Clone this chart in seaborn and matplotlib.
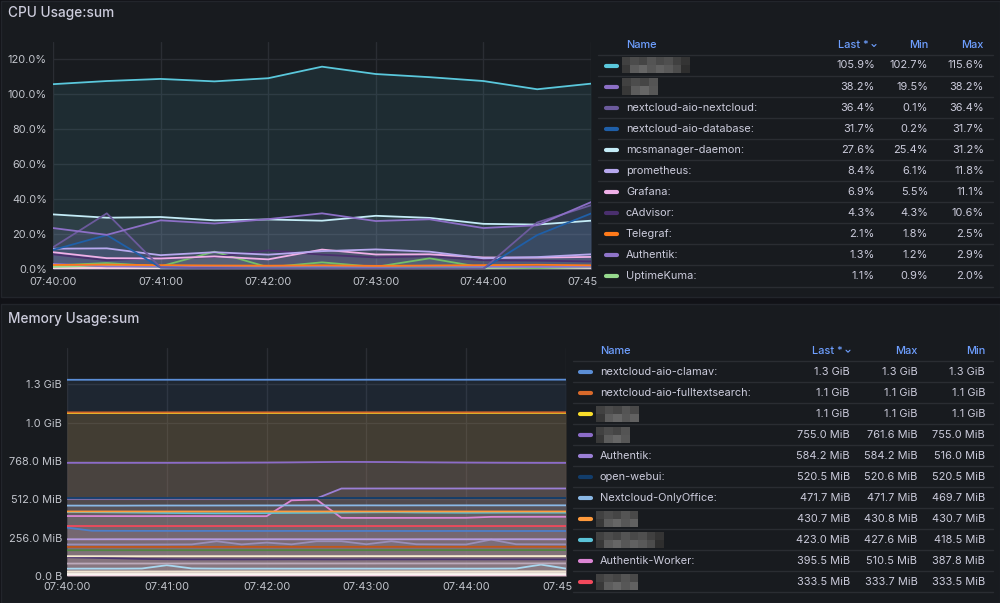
import numpy as np
import pandas as pd
import matplotlib.pyplot as plt
import seaborn as sns
from matplotlib.patches import Rectangle

W, H = 1000, 603
PANEL = "#181b1f"
GAP = "#111217"
BORDER = "#22252b"
TEXT = "#ccccdc"
TICK = "#c2c5cc"
HEAD = "#6e9fff"
GRID = "#2a2d33"
ROWLINE = "#2a2d32"

# ---------------- CPU Usage:sum  (percent, sample every 30 s from 07:40:00)
cpu_time = [0, 30, 60, 90, 120, 150, 180, 210, 240, 270, 300]
cpu_blur_a = [105.6, 107.4, 108.6, 107.2, 109.0, 115.6, 111.4, 109.6, 107.4, 102.7, 105.9]
cpu_blur_b = [23.4, 19.5, 27.8, 26.0, 28.5, 31.8, 27.4, 28.4, 23.4, 25.0, 38.2]
cpu_nextcloud = [12.4, 31.8, 0.9, 0.4, 0.3, 0.2, 0.1, 0.2, 0.1, 26.6, 36.4]
cpu_database = [10.9, 19.4, 0.8, 0.5, 0.3, 0.3, 0.2, 0.3, 0.2, 19.4, 31.7]
cpu_mcs = [31.2, 29.3, 29.7, 27.8, 28.3, 27.6, 30.4, 29.2, 25.8, 25.4, 27.6]
cpu_prometheus = [11.6, 11.8, 7.9, 9.6, 8.2, 10.2, 11.2, 9.9, 6.1, 6.8, 8.4]
cpu_grafana = [9.6, 6.2, 6.0, 7.2, 5.5, 11.1, 8.3, 8.4, 6.6, 6.5, 6.9]
cpu_cadvisor = [8.4, 5.0, 6.4, 6.8, 10.6, 8.2, 6.6, 7.3, 5.0, 4.8, 4.3]
cpu_telegraf = [2.3, 2.5, 2.2, 2.0, 1.9, 2.1, 1.8, 2.0, 2.2, 2.4, 2.1]
cpu_authentik = [2.9, 1.5, 1.3, 1.2, 1.4, 1.3, 1.2, 1.5, 1.3, 1.2, 1.3]
cpu_uptimekuma = [1.2, 2.0, 1.0, 0.9, 1.1, 1.0, 1.3, 1.0, 0.9, 1.2, 1.1]
# series further down the (scrolled) legend
cpu_extra_green = [2.0, 3.4, 1.5, 9.9, 1.0, 3.8, 1.2, 6.1, 0.8, 0.5, 1.0]
cpu_extra_pink = [0.7, 0.6, 0.8, 0.7, 0.6, 0.7, 0.8, 0.6, 0.7, 0.7, 0.6]
cpu_extra_white = [0.3, 0.2, 0.3, 0.3, 0.2, 0.3, 0.3, 0.2, 0.3, 0.3, 0.2]

cpu_colors = ["#5ac8dc", "#8c6fc6", "#6b5a9c", "#1f5fa8", "#c4ecf7", "#b7a8ee",
              "#f0b0e8", "#4a2f6e", "#ff7a1a", "#8f74c9", "#96d98d"]
cpu_names = ["", "", "nextcloud-aio-nextcloud:", "nextcloud-aio-database:",
             "mcsmanager-daemon:", "prometheus:", "Grafana:", "cAdvisor:",
             "Telegraf:", "Authentik:", "UptimeKuma:"]
cpu_last = ["105.9%", "38.2%", "36.4%", "31.7%", "27.6%", "8.4%", "6.9%",
            "4.3%", "2.1%", "1.3%", "1.1%"]
cpu_min = ["102.7%", "19.5%", "0.1%", "0.2%", "25.4%", "6.1%", "5.5%",
           "4.3%", "1.8%", "1.2%", "0.9%"]
cpu_max = ["115.6%", "38.2%", "36.4%", "31.7%", "31.2%", "11.8%", "11.1%",
           "10.6%", "2.5%", "2.9%", "2.0%"]
cpu_yticks = [0, 20, 40, 60, 80, 100, 120]

# ---------------- Memory Usage:sum  (MiB, sample every 15 s from 07:40:00)
mem_time = [0, 15, 30, 45, 60, 75, 90, 105, 120, 135, 150,
            165, 180, 195, 210, 225, 240, 255, 270, 285, 300]
mem_clamav = [1309.8, 1309.9, 1310.0, 1310.0, 1310.1, 1310.1, 1310.0, 1310.2, 1310.2, 1310.3, 1310.3,
              1310.2, 1310.4, 1310.4, 1310.5, 1310.5, 1310.4, 1310.6, 1310.6, 1310.7, 1310.7]
mem_fulltext = [1092.1, 1092.1, 1092.2, 1092.2, 1092.2, 1092.3, 1092.3, 1092.3, 1092.4, 1092.4, 1092.4,
                1092.5, 1092.5, 1092.5, 1092.6, 1092.6, 1092.6, 1092.7, 1092.7, 1092.7, 1092.8]
mem_blur_yellow = [1088.0, 1088.0, 1088.1, 1088.1, 1088.1, 1088.2, 1088.2, 1088.2, 1088.3, 1088.3, 1088.3,
                   1088.4, 1088.4, 1088.4, 1088.5, 1088.5, 1088.5, 1088.6, 1088.6, 1088.6, 1088.7]
mem_blur_purple = [755.4, 755.4, 755.2, 755.3, 755.3, 755.6, 755.8, 756.4, 757.0, 758.2, 760.0,
                   761.6, 761.2, 760.4, 759.0, 757.8, 756.8, 756.0, 755.4, 755.0, 755.0]
mem_authentik = [516.0, 516.2, 516.4, 516.3, 516.5, 516.6, 516.8, 517.0, 517.2, 517.4, 517.6,
                 584.0, 584.1, 584.2, 584.2, 584.1, 584.2, 584.2, 584.2, 584.2, 584.2]
mem_webui = [520.5, 520.5, 520.6, 520.5, 520.5, 520.6, 520.5, 520.5, 520.6, 520.5, 520.5,
             520.6, 520.5, 520.5, 520.6, 520.5, 520.5, 520.6, 520.5, 520.5, 520.5]
mem_onlyoffice = [470.0, 469.8, 469.7, 470.2, 470.5, 470.4, 470.6, 470.8, 471.0, 471.2, 471.0,
                  471.2, 471.4, 471.2, 471.4, 471.5, 471.6, 471.5, 471.6, 471.7, 471.7]
mem_blur_orange = [430.7, 430.7, 430.8, 430.7, 430.7, 430.8, 430.7, 430.7, 430.8, 430.7, 430.7,
                   430.8, 430.7, 430.7, 430.8, 430.7, 430.7, 430.8, 430.7, 430.7, 430.7]
mem_blur_cyan = [427.6, 426.0, 424.5, 423.0, 421.0, 419.5, 418.5, 419.0, 420.2, 421.5, 422.0,
                 423.5, 424.8, 425.5, 424.0, 423.2, 422.5, 423.0, 423.4, 423.2, 423.0]
mem_worker = [400.2, 400.0, 399.8, 399.6, 399.8, 400.0, 399.7, 399.5, 399.3, 505.0, 510.5,
              388.2, 387.8, 388.0, 388.1, 388.3, 388.5, 394.8, 395.3, 395.4, 395.5]
mem_blur_red = [333.6, 333.7, 333.6, 333.5, 333.6, 333.5, 333.6, 333.7, 333.6, 333.5, 333.6,
                333.5, 333.6, 333.5, 333.6, 333.5, 333.6, 333.5, 333.6, 333.5, 333.5]
# series further down the (scrolled) legend
mem_extra_blue = [323.0, 302.0, 301.5, 301.2, 301.0, 300.8, 301.0, 300.9, 300.7, 300.8, 300.6,
                  300.5, 300.7, 300.6, 300.4, 300.5, 300.6, 300.4, 300.3, 300.5, 300.4]
mem_extra_lavender = [245.2, 245.0, 245.3, 245.1, 245.2, 245.4, 245.2, 245.0, 245.3, 245.2, 245.1,
                      245.3, 245.2, 245.0, 245.2, 245.3, 245.1, 245.2, 245.4, 245.2, 245.1]
mem_extra_wavy = [210.5, 210.2, 209.8, 210.0, 210.4, 211.0, 232.0, 211.0, 223.0, 211.5, 232.0,
                  232.0, 212.0, 232.0, 212.0, 211.0, 210.5, 243.0, 212.0, 211.5, 211.0]
mem_extra_brown = [194.0, 194.2, 194.1, 194.3, 194.2, 194.4, 194.3, 194.5, 194.4, 194.6, 194.5,
                   194.7, 194.6, 194.8, 194.7, 194.9, 194.8, 195.0, 194.9, 195.1, 195.0]
mem_extra_green = [172.0, 172.1, 172.0, 172.2, 172.1, 172.3, 172.2, 172.4, 172.3, 172.5, 172.4,
                   172.6, 172.5, 172.7, 172.6, 172.8, 172.7, 172.9, 172.8, 173.0, 172.9]
mem_extra_cream = [132.0, 132.1, 132.2, 132.1, 132.3, 132.2, 132.4, 132.3, 132.5, 132.4, 132.6,
                   132.5, 132.7, 132.6, 132.8, 132.7, 132.9, 132.8, 133.0, 132.9, 133.1]
mem_extra_darkpurple = [125.0, 122.0, 118.0, 114.0, 112.0, 111.0, 111.2, 110.8, 111.0, 111.4, 111.0,
                        110.6, 111.2, 111.0, 110.8, 111.3, 111.0, 110.9, 111.2, 111.0, 110.8]
mem_extra_grey = [83.0, 83.2, 83.1, 83.3, 83.2, 83.4, 83.3, 83.5, 83.4, 83.6, 83.5,
                  83.7, 83.6, 83.8, 83.7, 83.9, 83.8, 84.0, 83.9, 84.1, 84.0]
mem_extra_lightblue = [49.0, 49.2, 49.1, 50.0, 72.0, 50.5, 49.3, 49.1, 49.2, 49.0, 49.1,
                       49.3, 49.2, 49.1, 49.0, 49.2, 49.1, 49.3, 50.0, 76.0, 49.5]
mem_extra_cream2 = [30.0, 30.1, 30.0, 30.2, 30.1, 30.3, 30.2, 30.4, 30.3, 30.5, 30.4,
                    30.6, 30.5, 30.7, 30.6, 30.8, 30.7, 30.9, 30.8, 31.0, 30.9]
mem_extra_white = [18.0, 18.1, 18.0, 18.2, 18.1, 18.3, 18.2, 18.4, 18.3, 18.5, 18.4,
                   18.6, 18.5, 18.7, 18.6, 18.8, 18.7, 18.9, 18.8, 19.0, 18.9]
mem_extra_white2 = [9.0, 9.1, 9.0, 9.2, 9.1, 9.3, 9.2, 9.4, 9.3, 9.5, 9.4,
                    9.6, 9.5, 9.7, 9.6, 9.8, 9.7, 9.9, 9.8, 10.0, 9.9]
mem_extra_pink = [2.0, 2.1, 2.0, 2.2, 2.1, 2.3, 2.2, 2.4, 2.3, 2.5, 2.4,
                  2.6, 2.5, 2.7, 2.6, 2.8, 2.7, 2.9, 2.8, 3.0, 2.9]

mem_colors = ["#5b8ed6", "#d9692a", "#fade2a", "#8c6cc8", "#9b7fd6", "#123d6b",
              "#8ab8e6", "#ff9a3c", "#5bc4d9", "#dc86d4", "#f2495c"]
mem_names = ["nextcloud-aio-clamav:", "nextcloud-aio-fulltextsearch:", "", "",
             "Authentik:", "open-webui:", "Nextcloud-OnlyOffice:", "", "",
             "Authentik-Worker:", ""]
mem_last = ["1.3 GiB", "1.1 GiB", "1.1 GiB", "755.0 MiB", "584.2 MiB", "520.5 MiB",
            "471.7 MiB", "430.7 MiB", "423.0 MiB", "395.5 MiB", "333.5 MiB"]
mem_max = ["1.3 GiB", "1.1 GiB", "1.1 GiB", "761.6 MiB", "584.2 MiB", "520.6 MiB",
           "471.7 MiB", "430.8 MiB", "427.6 MiB", "510.5 MiB", "333.7 MiB"]
mem_min = ["1.3 GiB", "1.1 GiB", "1.1 GiB", "755.0 MiB", "516.0 MiB", "520.5 MiB",
           "469.7 MiB", "430.7 MiB", "418.5 MiB", "387.8 MiB", "333.5 MiB"]
mem_yticks = [0, 256, 512, 768, 1024, 1280]
mem_ytick_labels = ["0.0 B", "256.0 MiB", "512.0 MiB", "768.0 MiB", "1.0 GiB", "1.3 GiB"]

time_ticks = [0, 60, 120, 180, 240, 300]
time_labels = ["07:40:00", "07:41:00", "07:42:00", "07:43:00", "07:44:00", "07:45:00"]

# pixel widths of the blurred (hidden) names
cpu_blur_w = {0: 68, 1: 36}
mem_blur_w = {2: 43, 3: 34, 7: 42, 8: 68, 10: 42}
blur_tiles = np.array([[0.26, 0.30, 0.27, 0.33, 0.29, 0.31, 0.25, 0.21, 0.27],
                       [0.22, 0.36, 0.40, 0.34, 0.38, 0.35, 0.30, 0.18, 0.33]])

sns.set_style("dark")
plt.rcParams["font.family"] = ["Inter", "DejaVu Sans"]

fig = plt.figure(figsize=(W / 100, H / 100), dpi=100, facecolor=GAP)


def px_axes(x0, y0, x1, y1, z):
    ax = fig.add_axes([x0 / W, 1 - y1 / H, (x1 - x0) / W, (y1 - y0) / H])
    ax.set_zorder(z)
    return ax


# background: two panels
bg = px_axes(0, 0, W, H, 0)
bg.set_xlim(0, W)
bg.set_ylim(H, 0)
bg.set_axis_off()
bg.add_patch(Rectangle((0.5, 0.5), 999, 296, facecolor=PANEL, edgecolor=BORDER, lw=1))
bg.add_patch(Rectangle((0.5, 303.5), 999, 299, facecolor=PANEL, edgecolor=BORDER, lw=1))
bg.text(8, 13, "CPU Usage:sum", color=TEXT, fontsize=9.8, fontweight="medium", va="center")
bg.text(8, 319, "Memory Usage:sum", color=TEXT, fontsize=9.8, fontweight="medium", va="center")


def draw_chart(ax, t, series, colors, ylim, yticks, ylabels, xpad, ypad):
    df = pd.DataFrame(series, index=t)
    df.index.name = "t"
    long = df.reset_index().melt(id_vars="t", var_name="series", value_name="v")
    for name, vals in series.items():
        ax.fill_between(t, vals, 0, color=colors[name], alpha=0.1, lw=0)
    sns.lineplot(data=long, x="t", y="v", hue="series", hue_order=list(series),
                 palette=colors, legend=False, lw=1.3, estimator=None,
                 sort=False, ax=ax)
    ax.set_facecolor(PANEL)
    for s in ax.spines.values():
        s.set_visible(False)
    ax.set_xlim(t[0], t[-1])
    ax.set_ylim(*ylim)
    ax.set_xticks(time_ticks, time_labels)
    ax.set_yticks(yticks, ylabels)
    ax.grid(True, color=GRID, lw=1)
    ax.set_axisbelow(True)
    ax.tick_params(axis="x", length=0, colors=TICK, labelsize=7.9, pad=xpad)
    ax.tick_params(axis="y", length=0, colors=TICK, labelsize=7.9, pad=ypad)
    ax.set_xlabel("")
    ax.set_ylabel("")


def draw_table(ax, box, y_head, y_row, dy, sw_x, name_x, cols, heads, last_head_x,
               names, colors, blur_w, line_x):
    ax.set_facecolor(PANEL)
    ax.set_xticks([])
    ax.set_yticks([])
    for s in ax.spines.values():
        s.set_visible(False)
    ax.text(name_x, y_head, "Name", color=HEAD, fontsize=7.9, fontweight="medium", va="center")
    for (cx, _), h in zip(cols, heads):
        hx = last_head_x if h.startswith("Last") else cx
        ax.text(hx, y_head, h, color=HEAD, fontsize=7.9, fontweight="medium",
                va="center", ha="right")
    # little sort chevron after "Last *"
    vx = last_head_x + 5
    ax.plot([vx - 2, vx, vx + 2], [y_head - 0.5, y_head + 1.5, y_head - 0.5],
            color=HEAD, lw=0.8)
    ax.plot(line_x, [y_row - dy / 2] * 2, color=ROWLINE, lw=1)
    for i, (nm, c) in enumerate(zip(names, colors)):
        y = y_row + i * dy
        ax.plot([sw_x, sw_x + 11], [y, y], color=c, lw=3, solid_capstyle="round")
        if nm:
            ax.text(name_x, y, nm, color=TEXT, fontsize=7.9, va="center")
        else:
            w = blur_w[i]
            ax.imshow(blur_tiles[:, : max(2, int(round(w / 8)))], cmap="gray", vmin=0, vmax=1,
                      extent=(name_x - 4, name_x - 4 + w, y + 8, y - 8),
                      interpolation="nearest", aspect="auto", zorder=2)
        for cx, vals in cols:
            ax.text(cx, y, vals[i], color=TEXT, fontsize=7.9, va="center", ha="right")
        ax.plot(line_x, [y + dy / 2] * 2, color=ROWLINE, lw=1)
    ax.set_xlim(box[0], box[1])
    ax.set_ylim(box[3], box[2])


# ---- CPU chart
cpu_series = {
    "extra_white": cpu_extra_white, "extra_pink": cpu_extra_pink,
    "extra_green": cpu_extra_green, "UptimeKuma": cpu_uptimekuma,
    "Authentik": cpu_authentik, "Telegraf": cpu_telegraf, "cAdvisor": cpu_cadvisor,
    "Grafana": cpu_grafana, "prometheus": cpu_prometheus, "mcs": cpu_mcs,
    "database": cpu_database, "nextcloud": cpu_nextcloud,
    "blur_b": cpu_blur_b, "blur_a": cpu_blur_a,
}
cpu_palette = {
    "extra_white": "#f4f1ee", "extra_pink": "#f7c6dc", "extra_green": "#73bf69",
    "UptimeKuma": cpu_colors[10], "Authentik": cpu_colors[9], "Telegraf": cpu_colors[8],
    "cAdvisor": cpu_colors[7], "Grafana": cpu_colors[6], "prometheus": cpu_colors[5],
    "mcs": cpu_colors[4], "database": cpu_colors[3], "nextcloud": cpu_colors[2],
    "blur_b": cpu_colors[1], "blur_a": cpu_colors[0],
}
ax1 = px_axes(53, 42, 591, 269, 1)
draw_chart(ax1, cpu_time, cpu_series, cpu_palette, (0, 129.7), cpu_yticks,
           [f"{v:.1f}%" for v in cpu_yticks], 5.5, 4.3)

leg1 = px_axes(597, 30, 998, 295, 2)
draw_table(leg1, (597, 998, 30, 295), 45, 65.5, 21.05, 606, 626,
           [(875, cpu_last), (928, cpu_min), (984, cpu_max)],
           ["Last *", "Min", "Max"], 869, cpu_names, cpu_colors, cpu_blur_w, [598, 993])

# ---- Memory chart
mem_series = {
    "extra_pink": mem_extra_pink, "extra_white2": mem_extra_white2,
    "extra_white": mem_extra_white, "extra_cream2": mem_extra_cream2,
    "extra_lightblue": mem_extra_lightblue, "extra_grey": mem_extra_grey,
    "extra_darkpurple": mem_extra_darkpurple, "extra_cream": mem_extra_cream,
    "extra_green": mem_extra_green, "extra_brown": mem_extra_brown,
    "extra_wavy": mem_extra_wavy, "extra_lavender": mem_extra_lavender,
    "extra_blue": mem_extra_blue, "blur_red": mem_blur_red, "worker": mem_worker,
    "blur_cyan": mem_blur_cyan, "blur_orange": mem_blur_orange,
    "onlyoffice": mem_onlyoffice, "authentik": mem_authentik, "webui": mem_webui,
    "blur_purple": mem_blur_purple, "blur_yellow": mem_blur_yellow,
    "fulltext": mem_fulltext, "clamav": mem_clamav,
}
mem_palette = {
    "extra_pink": "#eeb4d4", "extra_white2": "#faf6f2", "extra_white": "#f3ece4",
    "extra_cream2": "#efe4d2", "extra_lightblue": "#a8d8f0", "extra_grey": "#bcaabb",
    "extra_darkpurple": "#4b3570", "extra_cream": "#f6ecd0", "extra_green": "#508642",
    "extra_brown": "#c0561a", "extra_wavy": "#9a8fb8", "extra_lavender": "#b59ae0",
    "extra_blue": "#4f7fc8", "blur_red": mem_colors[10], "worker": mem_colors[9],
    "blur_cyan": mem_colors[8], "blur_orange": mem_colors[7], "onlyoffice": mem_colors[6],
    "authentik": mem_colors[4], "webui": mem_colors[5], "blur_purple": mem_colors[3],
    "blur_yellow": mem_colors[2], "fulltext": mem_colors[1], "clamav": mem_colors[0],
}
ax2 = px_axes(67, 348, 566, 576, 1)
draw_chart(ax2, mem_time, mem_series, mem_palette, (0, 1522), mem_yticks,
           mem_ytick_labels, 4.3, 3.6)

leg2 = px_axes(572, 336, 998, 602, 2)
draw_table(leg2, (572, 998, 336, 602), 350.7, 371.7, 21.0, 580, 600,
           [(850, mem_last), (917.5, mem_max), (985, mem_min)],
           ["Last *", "Max", "Min"], 843, mem_names, mem_colors, mem_blur_w, [573, 993])

fig.savefig("out.png", dpi=100, facecolor=GAP)
